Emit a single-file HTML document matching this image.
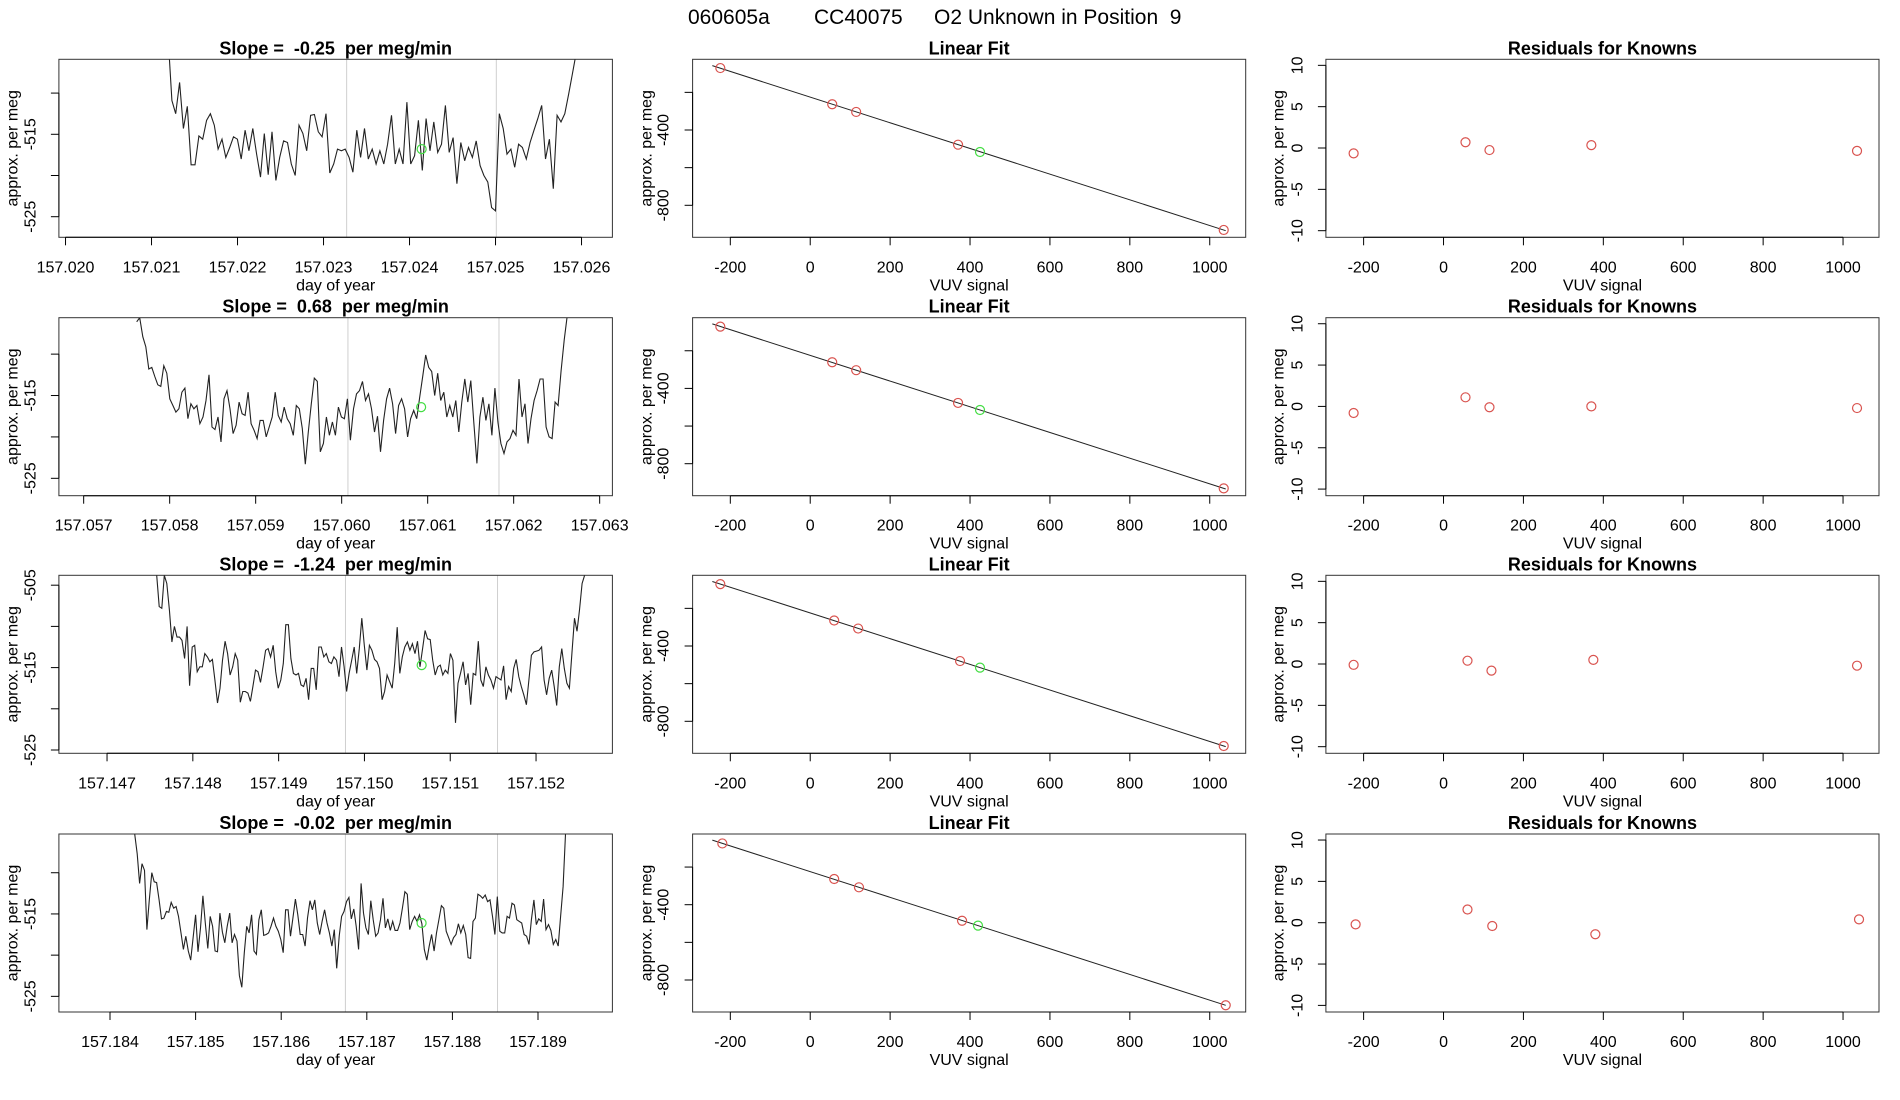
<!DOCTYPE html>
<html><head><meta charset="utf-8">
<style>
html,body{margin:0;padding:0;background:#fff;}
svg{display:block;font-family:"Liberation Sans",Arial,sans-serif;}
svg text{white-space:pre;}
</style></head>
<body>
<svg id="chart" width="1900" height="1100" viewBox="0 0 1900 1100" xmlns="http://www.w3.org/2000/svg">
<g font-size="21" fill="#000">
<text x="688" y="24">060605a</text>
<text x="814" y="24">CC40075</text>
<text x="934" y="24" style="white-space:pre">O2 Unknown in Position  9</text>
</g>
</svg>
<script>
// ---------- DATA ----------
const slopeLabels = ["-0.25", "0.68", "-1.24", "-0.02"];
const tStart = [157.021192, 157.057617, 157.147579, 157.184289];
const tEnd = [157.025940, 157.062622, 157.152566, 157.189321];
const xLims = [[157.019923,157.026359],[157.056712,157.063148],[157.146439,157.152890],[157.183403,157.189869]];
const yLims = [[-527.5,-505.9],[-527.1,-505.6],[-525.4,-503.8],[-526.9,-505.3]];
const xTickLabels = [
 ["157.020","157.021","157.022","157.023","157.024","157.025","157.026"],
 ["157.057","157.058","157.059","157.060","157.061","157.062","157.063"],
 ["157.147","157.148","157.149","157.150","157.151","157.152"],
 ["157.184","157.185","157.186","157.187","157.188","157.189"]];
const yTicks = [[-510,-515,-520,-525],[-510,-515,-520,-525],[-505,-510,-515,-520,-525],[-510,-515,-520,-525]];
const yTickLabeled = [[-515,-525],[-515,-525],[-505,-515,-525],[-515,-525]];
const windowStart = [157.023269, 157.060073, 157.149779, 157.186750];
const windowEnd = [157.025009, 157.061829, 157.151551, 157.188527];
const unkTime = [157.024141, 157.060924, 157.150667, 157.187640];
const unkValue = [-516.8, -516.4, -514.7, -516.1];

const series1 = [-503,-510.9,-512.5,-508.7,-514.3,-511.6,-518.7,-518.7,-515.2,-515.6,-513.3,-512.5,-513.9,-516.8,-515.6,-517.8,-516.6,-515.3,-515.6,-518.0,-514.5,-517.0,-514.3,-517.4,-520.2,-514.9,-519.9,-514.7,-520.6,-517.8,-515.8,-516.0,-518.6,-520.0,-513.9,-514.9,-517.0,-512.7,-512.6,-514.7,-515.3,-512.5,-519.7,-518.6,-516.8,-517.0,-516.8,-517.8,-519.6,-514.5,-517.8,-514.3,-518.0,-516.8,-518.6,-517.0,-518.6,-516.2,-512.7,-518.6,-516.8,-518.6,-511.1,-518.6,-517.6,-513.3,-519.4,-513.1,-517.0,-513.5,-517.2,-516.2,-511.5,-517.2,-515.4,-521.0,-516.0,-518.2,-516.6,-517.8,-515.8,-518.8,-520.0,-520.8,-523.9,-524.3,-512.5,-514.3,-517.4,-516.8,-519.0,-516.2,-516.6,-518.0,-516.0,-514.5,-513.1,-511.5,-518.0,-515.6,-521.6,-512.7,-513.5,-512.5,-510.1,-507.6,-505.0];
const series2 = [-506.1,-505.6,-507.9,-509.1,-511.8,-511.6,-512.7,-513.7,-513.9,-511.4,-512.3,-515.4,-516.2,-517.0,-516.6,-514.6,-514.1,-517.8,-516.0,-516.6,-516.2,-518.4,-517.6,-515.6,-512.5,-518.8,-519.1,-517.6,-520.6,-515.4,-514.4,-516.6,-519.6,-518.6,-515.8,-517.2,-517.4,-514.6,-518.4,-519.2,-520.2,-518.0,-518.0,-520.0,-518.8,-517.6,-514.6,-517.4,-518.2,-516.4,-517.8,-518.4,-519.8,-516.2,-516.6,-519.0,-523.3,-519.4,-516.0,-512.9,-513.3,-521.8,-520.8,-517.6,-519.8,-518.2,-519.8,-516.4,-517.6,-517.8,-515.4,-520.4,-516.6,-514.8,-514.4,-513.3,-515.6,-514.8,-516.6,-519.4,-517.5,-521.8,-518.0,-515.4,-514.1,-516.0,-519.6,-516.2,-515.4,-516.6,-520.0,-517.8,-516.8,-517.8,-515.2,-512.7,-510.1,-511.6,-512.1,-515.0,-512.3,-515.6,-514.6,-517.6,-516.2,-517.6,-515.6,-519.4,-515.8,-513.0,-515.8,-513.2,-518.4,-523.2,-517.6,-515.2,-518.0,-516.0,-519.8,-514.1,-518.2,-520.8,-522.0,-520.6,-520.2,-519.2,-519.8,-513.0,-517.6,-516.0,-520.8,-517.8,-515.6,-514.4,-513.0,-513.0,-518.8,-520.0,-520.2,-515.8,-516.2,-512.0,-508.3,-505.4];
const series3 = [-503.8,-507.6,-507.8,-503.8,-504.8,-508.0,-511.9,-510.0,-511.3,-511.3,-511.7,-513.9,-510.0,-517.2,-512.5,-512.3,-515.5,-514.9,-514.9,-513.3,-513.7,-514.3,-514.0,-516.5,-519.3,-517.5,-514.1,-511.8,-513.3,-515.9,-514.9,-513.3,-514.1,-519.2,-517.9,-517.9,-518.1,-519.1,-517.3,-515.3,-515.5,-516.8,-514.9,-512.9,-512.7,-513.7,-512.3,-515.5,-517.5,-516.5,-514.5,-509.8,-509.8,-513.9,-515.7,-515.9,-515.7,-517.1,-517.3,-516.3,-518.9,-515.1,-515.1,-517.7,-512.5,-512.5,-513.7,-513.3,-514.3,-514.5,-513.7,-514.1,-516.1,-512.5,-514.9,-517.9,-515.7,-514.1,-512.5,-515.7,-512.7,-509.0,-512.3,-515.3,-512.3,-512.9,-514.0,-514.3,-515.1,-518.9,-517.9,-515.9,-516.7,-517.5,-514.5,-510.1,-515.7,-513.7,-512.5,-511.9,-512.9,-512.1,-513.3,-511.8,-514.9,-512.7,-510.5,-511.5,-511.6,-514.1,-515.9,-514.9,-514.7,-515.9,-515.3,-515.7,-513.3,-514.1,-521.7,-516.9,-515.7,-514.3,-517.1,-515.7,-519.5,-515.7,-515.9,-511.8,-516.5,-517.3,-514.9,-515.9,-516.5,-517.5,-516.1,-516.3,-516.5,-514.8,-518.9,-517.3,-517.9,-515.1,-514.0,-516.1,-517.3,-518.3,-519.5,-516.5,-513.5,-513.1,-513.0,-512.9,-512.5,-516.5,-518.3,-516.3,-515.3,-517.3,-519.6,-514.9,-512.7,-515.1,-516.9,-517.5,-513.3,-509.0,-510.6,-508.0,-504.8,-503.8];
const series4 = [-505.3,-507.7,-511.3,-508.9,-509.7,-516.9,-513.3,-510.0,-511.1,-511.2,-513.3,-515.6,-515.5,-514.7,-514.8,-513.6,-514.3,-514.1,-515.3,-517.3,-519.3,-517.7,-519.5,-520.6,-517.9,-515.1,-519.6,-516.7,-512.8,-516.1,-519.2,-515.3,-516.5,-519.5,-519.6,-514.9,-517.2,-518.5,-516.5,-514.9,-518.5,-517.5,-518.3,-522.5,-523.9,-519.7,-516.5,-517.3,-515.1,-519.5,-519.9,-515.7,-514.5,-517.6,-517.5,-517.3,-516.5,-515.5,-516.5,-517.1,-518.1,-519.7,-514.5,-514.5,-517.7,-515.5,-513.2,-515.1,-517.5,-517.5,-518.9,-515.5,-513.4,-514.5,-513.3,-516.1,-517.5,-515.9,-514.5,-516.1,-517.3,-518.9,-516.9,-521.6,-517.7,-515.3,-514.7,-513.5,-513.0,-515.6,-514.4,-516.5,-519.3,-511.3,-514.9,-516.7,-517.5,-513.4,-515.7,-517.7,-517.3,-515.7,-513.1,-516.7,-515.6,-517.0,-515.9,-517.0,-517.0,-516.1,-514.3,-512.3,-512.6,-516.9,-515.9,-515.3,-515.9,-515.1,-516.2,-519.3,-520.6,-518.9,-517.5,-519.5,-517.3,-515.7,-514.0,-514.3,-517.1,-517.9,-518.7,-517.9,-517.5,-516.2,-517.3,-516.4,-517.5,-520.3,-520.4,-515.9,-515.5,-512.6,-512.8,-513.1,-512.7,-513.5,-513.3,-515.3,-517.5,-512.9,-517.1,-517.3,-517.3,-515.3,-515.5,-513.7,-513.9,-515.7,-515.9,-516.1,-517.5,-517.7,-518.7,-515.7,-513.3,-516.3,-515.6,-515.9,-513.2,-516.9,-516.3,-517.0,-518.7,-518.1,-518.9,-515.3,-511.7,-505.3];
const allSeries = [series1, series2, series3, series4];

const knownX = [[-225,55,115,370,1035],[-225,55,115,370,1035],[-225,60,120,375,1035],[-220,60,122,380,1040]];
const knownY = [[-71,-263,-304,-478,-931],[-71.8,-261.0,-303.2,-477.1,-931.2],[-71.1,-264.7,-307.3,-480.0,-931.2],[-74.6,-263.5,-307.6,-485.4,-934.1]];
const unknownX = [425, 425, 425, 420];
const unknownY = [-517, -514.7, -514.7, -511.3];
const residuals = [[-0.65,0.7,-0.25,0.35,-0.35],[-0.8,1.1,-0.1,0.0,-0.2],[-0.1,0.4,-0.8,0.5,-0.2],[-0.2,1.6,-0.4,-1.4,0.4]];

const vuvTicks = [-200,0,200,400,600,800,1000];
const fitYTicks = [-200,-400,-600,-800];
const fitYLabeled = [-400,-800];
const resTicks = [-10,-5,0,5,10];

// ---------- LAYOUT ----------
const NS = "http://www.w3.org/2000/svg";
const svg = document.getElementById('chart');
const rowTop = [59.3, 317.7, 575.3, 834];
const boxH = 178;
const cols = [{l:58.9,r:612.4},{l:692.6,r:1245.7},{l:1325.9,r:1879}];
const vuvLim = [-294.4, 1090];
const fitLim = [-970, -24.4];
const resLim = [-10.8, 10.73];
const FS = 16;

function mk(tag, attrs, parent) {
  const e = document.createElementNS(NS, tag);
  for (const k in attrs) e.setAttribute(k, attrs[k]);
  (parent || svg).appendChild(e);
  return e;
}
function scale(d0, d1, p0, p1) { return v => p0 + (v - d0) / (d1 - d0) * (p1 - p0); }

function frame(g, col, top, title, xlab, ylab, ylabX) {
  const b = mk('rect', {x: col.l, y: top, width: col.r - col.l, height: boxH, fill: 'none', stroke: '#333', 'stroke-width': 1}, g);
  
  
  const t = mk('text', {x: (col.l + col.r) / 2, y: top - 5, 'text-anchor': 'middle', 'font-size': 18, 'font-weight': 'bold', style: 'white-space:pre'}, g);
  t.textContent = title;
  
  
  const xl = mk('text', {x: (col.l + col.r) / 2, y: top + boxH + 53, 'text-anchor': 'middle', 'font-size': FS}, g);
  xl.textContent = xlab;
  
  
  const cy = top + boxH / 2;
  const yl = mk('text', {x: ylabX, y: cy, 'text-anchor': 'middle', 'font-size': FS, 'dominant-baseline': 'central', transform: `rotate(-90 ${ylabX} ${cy})`}, g);
  yl.textContent = ylab;
  
  
}
function xAxis(g, top, ticks, labels, sx) {
  const yb = top + boxH;
  const x0 = sx(ticks[0]), x1 = sx(ticks[ticks.length - 1]);
  mk('line', {x1: x0, x2: x1, y1: yb, y2: yb, stroke: '#000'}, g);
  ticks.forEach((v, i) => {
    const x = sx(v);
    mk('line', {x1: x, x2: x, y1: yb, y2: yb + 8, stroke: '#000'}, g);
    const t = mk('text', {x: x, y: yb + 35, 'text-anchor': 'middle', 'font-size': FS}, g);
    t.textContent = labels[i];
    
    
  });
}
function yAxis(g, col, ticks, labeled, sy, labX, fmt) {
  const y0 = sy(ticks[0]), y1 = sy(ticks[ticks.length - 1]);
  mk('line', {x1: col.l, x2: col.l, y1: y0, y2: y1, stroke: '#000'}, g);
  ticks.forEach(v => {
    const y = sy(v);
    mk('line', {x1: col.l - 8, x2: col.l, y1: y, y2: y, stroke: '#000'}, g);
    if (labeled.indexOf(v) >= 0) {
      const t = mk('text', {x: labX, y: y, 'text-anchor': 'middle', 'font-size': FS, 'dominant-baseline': 'central', transform: `rotate(-90 ${labX} ${y})`}, g);
      t.textContent = fmt(v);
      
      
    }
  });
}

for (let r = 0; r < 4; r++) {
  const top = rowTop[r], bot = top + boxH;
  // ---- time series panel ----
  const g1 = mk('g', {});
  
  
  const c = cols[0];
  const sx = scale(xLims[r][0], xLims[r][1], c.l, c.r);
  const sy = scale(yLims[r][0], yLims[r][1], bot, top);
  const clipId = 'clip' + r;
  const cp = mk('clipPath', {id: clipId}, g1);
  mk('rect', {x: c.l, y: top, width: c.r - c.l, height: boxH}, cp);
  [windowStart[r], windowEnd[r]].forEach(t => {
    const l = mk('line', {x1: sx(t), x2: sx(t), y1: top, y2: bot, stroke: '#cfcfcf', 'stroke-width': 1}, g1);
    
    
  });
  const s = allSeries[r];
  const pts = s.map((v, k) => {
    const t = tStart[r] + (tEnd[r] - tStart[r]) * k / (s.length - 1);
    return sx(t).toFixed(1) + ',' + sy(v).toFixed(1);
  }).join(' ');
  const pl = mk('polyline', {points: pts, fill: 'none', stroke: '#222', 'stroke-width': 1.1, 'clip-path': `url(#${clipId})`}, g1);
  
  
  const uc = mk('circle', {cx: sx(unkTime[r]), cy: sy(unkValue[r]), r: 4.5, fill: 'none', stroke: '#44dd44', 'stroke-width': 1.2}, g1);
  
  
  frame(g1, c, top, 'Slope =  ' + slopeLabels[r] + '  per meg/min', 'day of year', 'approx. per meg', 13);
  const xt = xTickLabels[r].map(Number);
  xAxis(g1, top, xt, xTickLabels[r], sx);
  yAxis(g1, c, yTicks[r], yTickLabeled[r], sy, 31, v => String(v));

  // ---- linear fit panel ----
  const g2 = mk('g', {});
  
  
  const c2 = cols[1];
  const fx = scale(vuvLim[0], vuvLim[1], c2.l, c2.r);
  const fy = scale(fitLim[0], fitLim[1], bot, top);
  const kx = knownX[r], ky = knownY[r];
  const n = kx.length;
  const mx = kx.reduce((a, b) => a + b, 0) / n, my = ky.reduce((a, b) => a + b, 0) / n;
  let sxy = 0, sxx = 0;
  for (let i = 0; i < n; i++) { sxy += (kx[i] - mx) * (ky[i] - my); sxx += (kx[i] - mx) ** 2; }
  const slope = sxy / sxx, icpt = my - slope * mx;
  const la = -245, lb = 1040;
  const fl = mk('line', {x1: fx(la), y1: fy(icpt + slope * la), x2: fx(lb), y2: fy(icpt + slope * lb), stroke: '#222', 'stroke-width': 1}, g2);
  
  
  for (let i = 0; i < n; i++) {
    const p = mk('circle', {cx: fx(kx[i]), cy: fy(ky[i]), r: 4.5, fill: 'none', stroke: '#d9534f', 'stroke-width': 1.2}, g2);
    
    
  }
  const up = mk('circle', {cx: fx(unknownX[r]), cy: fy(unknownY[r]), r: 4.5, fill: 'none', stroke: '#44dd44', 'stroke-width': 1.2}, g2);
  
  
  frame(g2, c2, top, 'Linear Fit', 'VUV signal', 'approx. per meg', 647);
  xAxis(g2, top, vuvTicks, vuvTicks.map(String), fx);
  yAxis(g2, c2, fitYTicks, fitYLabeled, fy, 664, v => String(v));

  // ---- residuals panel ----
  const g3 = mk('g', {});
  
  
  const c3 = cols[2];
  const rx = scale(vuvLim[0], vuvLim[1], c3.l, c3.r);
  const ry = scale(resLim[0], resLim[1], bot, top);
  for (let i = 0; i < n; i++) {
    const p = mk('circle', {cx: rx(kx[i]), cy: ry(residuals[r][i]), r: 4.5, fill: 'none', stroke: '#d9534f', 'stroke-width': 1.2}, g3);
    
    
  }
  frame(g3, c3, top, 'Residuals for Knowns', 'VUV signal', 'approx. per meg', 1279);
  xAxis(g3, top, vuvTicks, vuvTicks.map(String), rx);
  yAxis(g3, c3, resTicks, resTicks, ry, 1298, v => String(v));
}
</script>
</body></html>
